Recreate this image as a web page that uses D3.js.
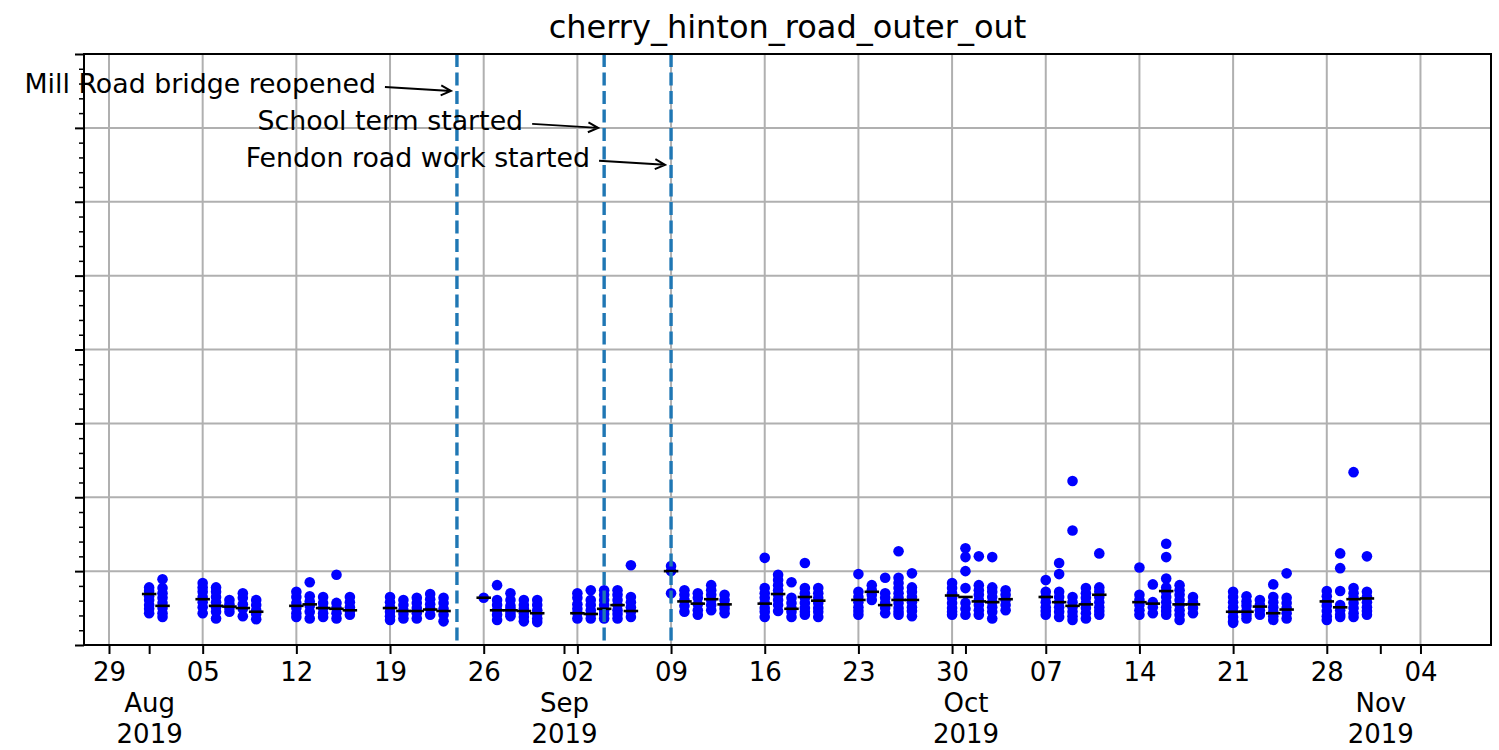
<!DOCTYPE html>
<html>
<head>
<meta charset="utf-8">
<title>cherry_hinton_road_outer_out</title>
<style>
body { margin: 0; background: #fff; }
svg { font-family: "DejaVu Sans", sans-serif; }
</style>
</head>
<body>
<div id="chart"></div>
<script src="https://d3js.org/d3.v7.min.js"></script>
<script>
// weekdays with readings
var days = [
  "2019-08-01", "2019-08-02",
  "2019-08-05", "2019-08-06", "2019-08-07", "2019-08-08", "2019-08-09",
  "2019-08-12", "2019-08-13", "2019-08-14", "2019-08-15", "2019-08-16",
  "2019-08-19", "2019-08-20", "2019-08-21", "2019-08-22", "2019-08-23",
  "2019-08-26", "2019-08-27", "2019-08-28", "2019-08-29", "2019-08-30",
  "2019-09-02", "2019-09-03", "2019-09-04", "2019-09-05", "2019-09-06",
  "2019-09-09", "2019-09-10", "2019-09-11", "2019-09-12", "2019-09-13",
  "2019-09-16", "2019-09-17", "2019-09-18", "2019-09-19", "2019-09-20",
  "2019-09-23", "2019-09-24", "2019-09-25", "2019-09-26", "2019-09-27",
  "2019-09-30", "2019-10-01", "2019-10-02", "2019-10-03", "2019-10-04",
  "2019-10-07", "2019-10-08", "2019-10-09", "2019-10-10", "2019-10-11",
  "2019-10-14", "2019-10-15", "2019-10-16", "2019-10-17", "2019-10-18",
  "2019-10-21", "2019-10-22", "2019-10-23", "2019-10-24", "2019-10-25",
  "2019-10-28", "2019-10-29", "2019-10-30", "2019-10-31"
];

// journey times for each day (same order as days)
var journeyTimes = [
  [78, 73, 66, 61, 54, 49, 43], [89, 77, 70, 64, 57, 50, 43, 38],
  [84, 78, 72, 65, 58, 51, 43], [78, 72, 65, 58, 51, 45, 36], [61, 55, 50, 45], [70, 64, 55, 49, 39], [61, 54, 47, 42, 35],
  [72, 65, 57, 50, 43, 38], [85, 66, 59, 53, 45, 36], [65, 57, 50, 43, 38], [95, 57, 50, 43, 36], [65, 58, 51, 46, 41],
  [65, 58, 51, 45, 39, 34], [61, 54, 47, 42, 36], [64, 57, 50, 43, 36], [69, 62, 55, 49, 41], [64, 57, 49, 41, 32],
  [64], [81, 61, 54, 47, 41, 34], [70, 61, 53, 49, 46, 42, 39], [61, 54, 49, 43, 38, 32], [61, 54, 47, 42, 36, 31],
  [70, 64, 55, 49, 43, 36], [74, 61, 54, 47, 42, 36], [74, 68, 61, 54, 47, 42, 36], [74, 68, 61, 54, 47, 42, 36], [108, 65, 58, 51, 45, 38],
  [107, 100, 70], [74, 68, 61, 53, 45], [70, 64, 55, 47, 41], [81, 74, 68, 61, 54, 47], [68, 61, 54, 49, 43],
  [118, 77, 70, 64, 57, 50, 45, 38], [95, 88, 81, 74, 68, 61, 54, 46], [85, 64, 57, 50, 45, 38], [111, 77, 70, 64, 57, 50, 45, 41], [77, 70, 64, 57, 50, 45, 38],
  [96, 72, 65, 58, 51, 46, 41], [81, 74, 68, 61], [91, 70, 64, 57, 50, 43], [127, 91, 84, 77, 70, 64, 57, 50, 45, 41], [97, 78, 72, 65, 58, 51, 46, 39],
  [84, 77, 70, 64, 57, 50, 45, 41], [131, 119, 100, 77, 57, 49, 41], [120, 81, 74, 68, 61, 54, 47, 41], [119, 78, 72, 65, 58, 51, 45, 36], [74, 68, 61, 54, 47],
  [88, 72, 65, 58, 51, 46, 41], [111, 96, 72, 65, 58, 51, 45, 38], [222, 155, 65, 58, 51, 45, 39, 34], [77, 70, 64, 57, 50, 43, 36], [124, 78, 72, 65, 58, 51, 46, 41],
  [105, 68, 61, 54, 47, 41], [82, 58, 51, 43], [137, 119, 90, 78, 72, 65, 58, 51, 46, 41], [81, 74, 68, 61, 54, 47, 41, 34], [65, 58, 50, 43],
  [72, 65, 58, 51, 45, 38, 32, 30], [66, 59, 53, 46, 41, 36], [61, 54, 47, 41], [82, 65, 58, 51, 45, 39, 34], [97, 64, 57, 50, 43, 36],
  [73, 66, 59, 53, 46, 39, 34], [124, 104, 73, 54, 47, 41, 38], [234, 77, 70, 64, 57, 50, 43, 38], [120, 72, 65, 58, 51, 46, 41]
];

// daily medians
var medians = [
  69, 53,
  62, 53, 52, 50, 45,
  53, 55, 50, 49, 47,
  50, 46, 46, 48, 46,
  64, 47, 47, 46, 43,
  43, 42, 49, 54, 46,
  100, 59, 56, 62, 55,
  56, 69, 49, 65, 60,
  61, 72, 54, 61, 61,
  67, 65, 59, 58, 62,
  65, 58, 53, 55, 68,
  58, 56, 73, 55, 55,
  45, 45, 52, 43, 48,
  59, 51, 62, 63
];

var eventDates = ["2019-08-24", "2019-09-04", "2019-09-09"];
var eventLabels = ["Mill Road bridge reopened", "School term started", "Fendon road work started"];
var eventLevels = [750, 700, 650];

var yMajor = d3.range(0, 801, 100);
var yMinor = d3.range(0, 801, 20).filter(function(v) { return v % 100 !== 0; });

var parseDay = d3.utcParse("%Y-%m-%d");
var plotLeft = 84, plotTop = 54, plotRight = 1491, plotBottom = 645;
var plotW = plotRight - plotLeft, plotH = plotBottom - plotTop;

var svg = d3.select("#chart").append("svg")
  .attr("width", 1499)
  .attr("height", 750);

var g = svg.append("g").attr("transform", "translate(" + plotLeft + "," + plotTop + ")");

var x = d3.scaleUtc()
  .domain([new Date(Date.UTC(2019, 6, 27, 3, 10)), new Date(Date.UTC(2019, 10, 9, 6, 30))])
  .range([0, plotW]);
var y = d3.scaleLinear().domain([0, 800]).range([plotH, 0]);

var weeks = d3.utcMonday.range(new Date(Date.UTC(2019, 6, 28)), new Date(Date.UTC(2019, 10, 6)));
var months = d3.utcMonth.range(new Date(Date.UTC(2019, 7, 1)), new Date(Date.UTC(2019, 10, 2)));

// grid
g.append("g").selectAll("line").data(weeks).enter().append("line")
  .attr("x1", function(d) { return x(d); })
  .attr("x2", function(d) { return x(d); })
  .attr("y1", 0).attr("y2", plotH)
  .attr("stroke", "#b0b0b0").attr("stroke-width", 2);
g.append("g").selectAll("line").data(yMajor).enter().append("line")
  .attr("x1", 0).attr("x2", plotW)
  .attr("y1", function(d) { return y(d); })
  .attr("y2", function(d) { return y(d); })
  .attr("stroke", "#b0b0b0").attr("stroke-width", 2);

// points
var points = [];
days.forEach(function(d, i) {
  journeyTimes[i].forEach(function(v) {
    points.push({ date: parseDay(d), value: v });
  });
});

g.append("g").selectAll("circle").data(points).enter().append("circle")
  .attr("cx", function(d) { return x(d.date); })
  .attr("cy", function(d) { return y(d.value); })
  .attr("r", 5.3)
  .attr("fill", "blue");

// daily median ticks
var halfDay = 13 * 3600 * 1000;
g.append("g").selectAll("line").data(days).enter().append("line")
  .attr("x1", function(d) { return x(new Date(parseDay(d).getTime() - halfDay)); })
  .attr("x2", function(d) { return x(new Date(parseDay(d).getTime() + halfDay)); })
  .attr("y1", function(d, i) { return y(medians[i]); })
  .attr("y2", function(d, i) { return y(medians[i]); })
  .attr("stroke", "black")
  .attr("stroke-width", 2.6);

// event lines
g.append("g").selectAll("line").data(eventDates).enter().append("line")
  .attr("x1", function(d) { return x(parseDay(d)); })
  .attr("x2", function(d) { return x(parseDay(d)); })
  .attr("y1", 0).attr("y2", plotH)
  .attr("stroke", "#1f77b4")
  .attr("stroke-width", 3.4)
  .attr("stroke-dasharray", "13,5.5");

// annotations
eventDates.forEach(function(d, i) {
  var ex = x(parseDay(d)), ey = y(eventLevels[i]);
  g.append("text")
    .attr("x", ex - 81).attr("y", ey + 2)
    .attr("text-anchor", "end")
    .style("font-size", "26.8px")
    .text(eventLabels[i]);
  var sx = ex - 72, sy = ey - 4, tx = ex - 6, ty = ey;
  var len = Math.hypot(tx - sx, ty - sy);
  var ux = (tx - sx) / len, uy = (ty - sy) / len;
  var hl = 10, hw = 5;
  g.append("path")
    .attr("d", "M" + sx + "," + sy + "L" + tx + "," + ty +
      "M" + (tx - hl * ux - hw * uy) + "," + (ty - hl * uy + hw * ux) +
      "L" + tx + "," + ty +
      "L" + (tx - hl * ux + hw * uy) + "," + (ty - hl * uy - hw * ux))
    .attr("fill", "none")
    .attr("stroke", "black")
    .attr("stroke-width", 2);
});

// axes
var xAxis = g.append("g").attr("transform", "translate(0," + plotH + ")")
  .call(d3.axisBottom(x).tickValues(weeks).tickFormat(d3.utcFormat("%d")).tickSize(9).tickPadding(9));
var mAxis = g.append("g").attr("transform", "translate(0," + plotH + ")")
  .call(d3.axisBottom(x).tickValues(months).tickFormat("").tickSize(9));
mAxis.selectAll(".tick text").each(function(d) {
  var t = d3.select(this).attr("y", null).attr("dy", null);
  t.append("tspan").attr("x", 0).attr("y", 67).text(d3.utcFormat("%b")(d));
  t.append("tspan").attr("x", 0).attr("y", 98).text(d3.utcFormat("%Y")(d));
});
var yAxis = g.append("g").call(d3.axisLeft(y).tickValues(yMajor).tickFormat("").tickSize(9));
var yAxisMinor = g.append("g").call(d3.axisLeft(y).tickValues(yMinor).tickFormat("").tickSize(5));

[xAxis, mAxis, yAxis, yAxisMinor].forEach(function(a) {
  a.select(".domain").remove();
  a.selectAll(".tick line").attr("stroke", "black").attr("stroke-width", 2);
  a.selectAll("text").style("font-size", "26px").style("font-family", "DejaVu Sans").attr("fill", "black");
});
yAxisMinor.selectAll(".tick line").attr("stroke-width", 1.5);

// spines
g.append("rect")
  .attr("width", plotW).attr("height", plotH)
  .attr("fill", "none").attr("stroke", "black").attr("stroke-width", 2);

// title
svg.append("text")
  .attr("x", plotLeft + plotW / 2).attr("y", 38)
  .attr("text-anchor", "middle")
  .style("font-size", "32px")
  .text("cherry_hinton_road_outer_out");
</script>
</body>
</html>
